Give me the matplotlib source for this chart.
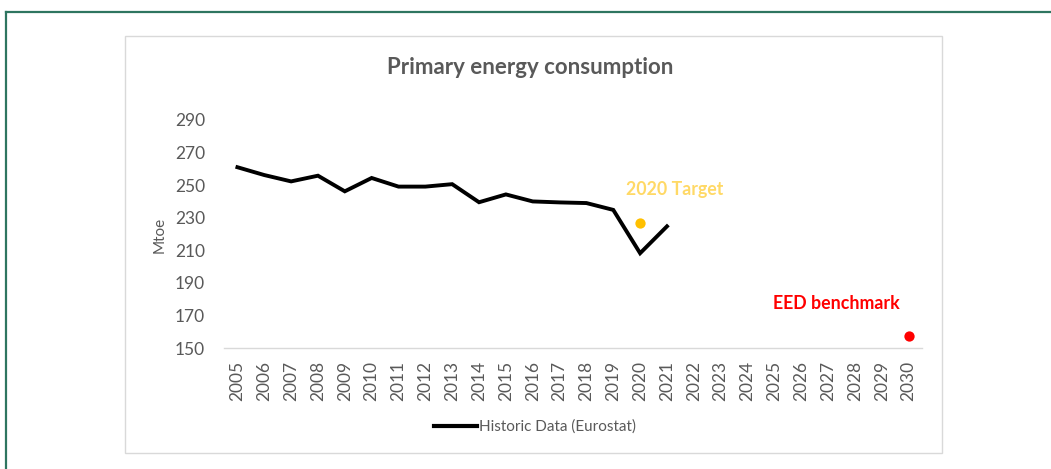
import matplotlib
matplotlib.use("Agg")
import matplotlib.pyplot as plt
from matplotlib.patches import Rectangle
from matplotlib.lines import Line2D

plt.rcParams['font.family'] = ['Lato', 'DejaVu Sans']

years = list(range(2005, 2031))
hist_years = list(range(2005, 2022))
hist_values = [261.0, 256.2, 252.3, 255.8, 246.2, 254.4, 249.1, 249.1, 250.6,
               239.5, 244.3, 240.0, 239.4, 239.0, 234.8, 208.2, 224.7]
target_year = [2020]
target_value = [226.9]
eed_year = [2030]
eed_value = [157.6]
yticks = [150, 170, 190, 210, 230, 250, 270, 290]

W, H = 1051, 469
fig = plt.figure(figsize=(W / 100, H / 100), dpi=100)

# outer frame (top and left, green)
fig.add_artist(Line2D([6 / W, 6 / W], [0, 1 - 12 / H], transform=fig.transFigure,
                      color='#2E7560', lw=1.6))
fig.add_artist(Line2D([6 / W, 1], [1 - 12 / H, 1 - 12 / H], transform=fig.transFigure,
                      color='#2E7560', lw=1.6))
# chart area box
fig.add_artist(Rectangle((125 / W, 1 - 453 / H), (942 - 125) / W, (453 - 36) / H,
                         transform=fig.transFigure, fill=False, edgecolor='#D9D9D9', lw=1.0))

ax = fig.add_axes([224 / W, 1 - 348 / H, (922 - 224) / W, (348 - 120) / H])
ax.set_xlim(2004.5, 2030.5)
ax.set_ylim(150, 290)
ax.plot(hist_years, hist_values, color='black', lw=2.8, solid_joinstyle='miter',
        label='Historic Data (Eurostat)')
ax.scatter(target_year, target_value, s=55, color='#FFC000', zorder=3, linewidths=0)
ax.scatter(eed_year, eed_value, s=55, color='#FF0000', zorder=3, linewidths=0)

ax.text(2021.3, 247.3, '2020 Target', color='#FFD966', fontsize=12.8, fontweight='bold',
        ha='center', va='center')
ax.text(2027.3, 177.6, 'EED benchmark', color='#FF0000', fontsize=12.8, fontweight='bold',
        ha='center', va='center')

for s in ['top', 'right', 'left']:
    ax.spines[s].set_visible(False)
ax.spines['bottom'].set_color('#D9D9D9')
ax.spines['bottom'].set_linewidth(1.0)

ax.set_yticks(yticks)
ax.set_yticklabels([str(v) for v in yticks])
ax.set_xticks(years)
ax.set_xticklabels([str(y) for y in years], rotation=90)
ax.tick_params(axis='both', length=0, labelsize=12.5, colors='#595959')
ax.tick_params(axis='y', pad=13.5)
ax.tick_params(axis='x', pad=9)

fig.text(160 / W, 1 - 235 / H, 'Mtoe', rotation=90, ha='center', va='center',
         fontsize=11, color='#595959')

fig.text(530 / W, 1 - 67 / H, 'Primary energy consumption', ha='center', va='center',
         fontsize=16, fontweight='bold', color='#595959')

handles = [Line2D([0], [0], color='black', lw=3.0)]
fig.legend(handles, ['Historic Data (Eurostat)'], loc='center',
           bbox_to_anchor=(535 / W, 1 - 427 / H), frameon=False, fontsize=11,
           labelcolor='#595959', handlelength=2.8, handletextpad=0.1)

fig.savefig('out.png', dpi=100, facecolor='white')
